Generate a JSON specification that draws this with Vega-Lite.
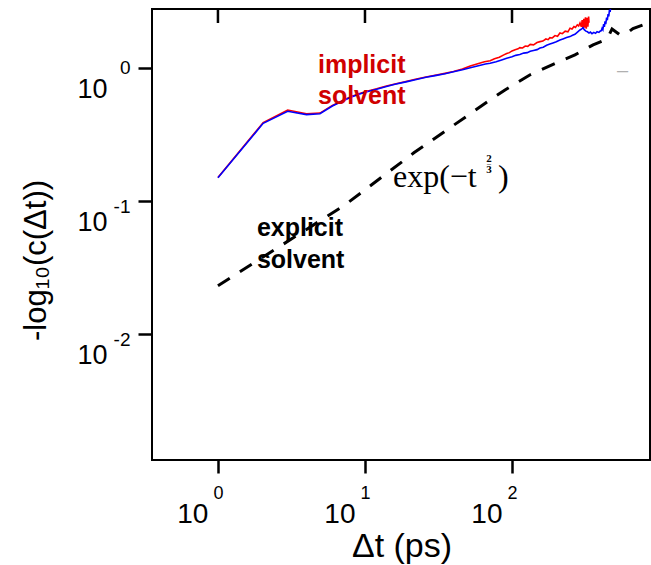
{
  "$schema": "https://vega.github.io/schema/vega-lite/v6.json",
  "width": 498,
  "height": 451,
  "autosize": {"type": "none"},
  "padding": {"left": 152, "top": 9, "right": 1, "bottom": 105},
  "background": "white",
  "config": {"view": {"stroke": "black", "strokeWidth": 2}, "font": "Liberation Sans"},
  "datasets": {
    "red": [
      {"t": 1, "v": 0.151}, {"t": 2.03, "v": 0.39}, {"t": 2.98, "v": 0.485}, {"t": 4.0, "v": 0.455}, {"t": 4.94, "v": 0.46},
      {"t": 6, "v": 0.525}, {"t": 7, "v": 0.57}, {"t": 8, "v": 0.61}, {"t": 9, "v": 0.64}, {"t": 10, "v": 0.665},
      {"t": 12, "v": 0.7}, {"t": 14, "v": 0.735}, {"t": 16, "v": 0.76}, {"t": 19, "v": 0.795}, {"t": 22, "v": 0.825},
      {"t": 26, "v": 0.86}, {"t": 30, "v": 0.885}, {"t": 35, "v": 0.915}, {"t": 40, "v": 0.945}, {"t": 46, "v": 0.985},
      {"t": 52, "v": 1.04}, {"t": 60, "v": 1.09}, {"t": 65, "v": 1.12}, {"t": 71, "v": 1.14}, {"t": 76, "v": 1.18},
      {"t": 82, "v": 1.21}, {"t": 88, "v": 1.26}, {"t": 92, "v": 1.29}, {"t": 96, "v": 1.31},
      {"t": 100, "v": 1.35}, {"t": 105, "v": 1.38}, {"t": 110, "v": 1.4}, {"t": 113, "v": 1.43}, {"t": 118, "v": 1.42},
      {"t": 123, "v": 1.47}, {"t": 128, "v": 1.46}, {"t": 133, "v": 1.51}, {"t": 140, "v": 1.5}, {"t": 148, "v": 1.56},
      {"t": 155, "v": 1.585}, {"t": 162, "v": 1.6}, {"t": 170, "v": 1.66}, {"t": 176, "v": 1.64}, {"t": 181, "v": 1.7},
      {"t": 188, "v": 1.69}, {"t": 196, "v": 1.76}, {"t": 204, "v": 1.74}, {"t": 212, "v": 1.84}, {"t": 220, "v": 1.82},
      {"t": 230, "v": 1.9}, {"t": 240, "v": 1.88}, {"t": 248, "v": 2.0}, {"t": 256, "v": 1.97}, {"t": 264, "v": 2.06},
      {"t": 270, "v": 2.03}, {"t": 278, "v": 2.12}, {"t": 284, "v": 2.08}, {"t": 290, "v": 2.19}, {"t": 296, "v": 2.05},
      {"t": 300, "v": 2.3}, {"t": 304, "v": 2.0}, {"t": 308, "v": 2.35}, {"t": 312, "v": 2.02}, {"t": 316, "v": 2.42},
      {"t": 320, "v": 1.98}, {"t": 324, "v": 2.4}, {"t": 328, "v": 2.05}, {"t": 332, "v": 2.45}, {"t": 334, "v": 2.2}
    ],
    "blue": [
      {"t": 1, "v": 0.15}, {"t": 2.03, "v": 0.385}, {"t": 2.98, "v": 0.475}, {"t": 4.0, "v": 0.448}, {"t": 4.94, "v": 0.455},
      {"t": 6, "v": 0.52}, {"t": 7, "v": 0.565}, {"t": 8, "v": 0.605}, {"t": 9, "v": 0.635}, {"t": 10, "v": 0.66},
      {"t": 12, "v": 0.695}, {"t": 14, "v": 0.73}, {"t": 16, "v": 0.757}, {"t": 19, "v": 0.79}, {"t": 22, "v": 0.82},
      {"t": 26, "v": 0.855}, {"t": 30, "v": 0.88}, {"t": 35, "v": 0.91}, {"t": 40, "v": 0.94}, {"t": 46, "v": 0.975},
      {"t": 52, "v": 1.01}, {"t": 60, "v": 1.05}, {"t": 66, "v": 1.075}, {"t": 71, "v": 1.09}, {"t": 78, "v": 1.12},
      {"t": 85, "v": 1.155}, {"t": 92, "v": 1.19}, {"t": 96, "v": 1.205},
      {"t": 100, "v": 1.22}, {"t": 106, "v": 1.25}, {"t": 113, "v": 1.27}, {"t": 120, "v": 1.3}, {"t": 127, "v": 1.31},
      {"t": 133, "v": 1.34}, {"t": 140, "v": 1.36}, {"t": 148, "v": 1.38}, {"t": 155, "v": 1.42}, {"t": 163, "v": 1.44},
      {"t": 172, "v": 1.49}, {"t": 181, "v": 1.52}, {"t": 190, "v": 1.55}, {"t": 200, "v": 1.58}, {"t": 212, "v": 1.63},
      {"t": 222, "v": 1.66}, {"t": 235, "v": 1.7}, {"t": 248, "v": 1.73}, {"t": 258, "v": 1.77}, {"t": 268, "v": 1.8},
      {"t": 280, "v": 1.88}, {"t": 290, "v": 1.94}, {"t": 298, "v": 1.98}, {"t": 304, "v": 2.02}, {"t": 310, "v": 1.95},
      {"t": 318, "v": 1.9}, {"t": 326, "v": 1.88}, {"t": 334, "v": 1.84}, {"t": 341, "v": 1.87}, {"t": 350, "v": 1.82},
      {"t": 360, "v": 1.86}, {"t": 370, "v": 1.83}, {"t": 379, "v": 1.88}, {"t": 390, "v": 1.86}, {"t": 397, "v": 1.9},
      {"t": 405, "v": 1.92}, {"t": 410, "v": 2.0}, {"t": 415, "v": 1.95}, {"t": 420, "v": 2.15}, {"t": 425, "v": 2.05},
      {"t": 429, "v": 2.25}, {"t": 434, "v": 2.15}, {"t": 440, "v": 2.4}, {"t": 445, "v": 2.3}, {"t": 450, "v": 2.55},
      {"t": 455, "v": 2.45}, {"t": 460, "v": 2.75}, {"t": 465, "v": 2.65}, {"t": 470, "v": 2.95}, {"t": 475, "v": 2.8},
      {"t": 479, "v": 3.2}
    ],
    "dash": [
      {"t": 1, "v": 0.0231}, {"t": 7.31, "v": 0.0938}, {"t": 21.5, "v": 0.231}, {"t": 74.3, "v": 0.598},
      {"t": 89.6, "v": 0.687}, {"t": 132, "v": 0.89}, {"t": 187, "v": 1.059}, {"t": 268, "v": 1.26},
      {"t": 356, "v": 1.5}, {"t": 443, "v": 1.66}, {"t": 479, "v": 1.975}, {"t": 543, "v": 1.78},
      {"t": 606, "v": 1.84}, {"t": 665, "v": 1.99}, {"t": 778, "v": 2.12}, {"t": 868, "v": 2.19}
    ],
    "topticks": [
      {"t": 1, "top": 2.79, "bottom": 2.19}, {"t": 10, "top": 2.79, "bottom": 2.19}, {"t": 100, "top": 2.79, "bottom": 2.19}
    ]
  },
  "resolve": {"axis": {"x": "independent", "y": "independent"}},
  "layer": [
    {
      "data": {"name": "topticks"},
      "mark": {"type": "rule", "color": "black", "strokeWidth": 2.5},
      "encoding": {
        "x": {"field": "t", "type": "quantitative", "scale": {"type": "log", "domain": [0.356, 868], "nice": false}, "axis": null},
        "y": {"field": "top", "type": "quantitative", "scale": {"type": "log", "domain": [0.00113, 2.79], "nice": false}, "axis": null},
        "y2": {"field": "bottom"}
      }
    },
    {
      "data": {"name": "red"},
      "mark": {"type": "line", "color": "#ff0000", "strokeWidth": 1.6, "clip": true},
      "encoding": {
        "x": {
          "field": "t", "type": "quantitative",
          "scale": {"type": "log", "domain": [0.356, 868], "nice": false},
          "axis": {
            "orient": "bottom", "values": [1, 10, 100], "labelExpr": "'10'",
            "labelFont": "Liberation Sans", "labelFontSize": 28, "labelColor": "black",
            "labelAlign": "right", "labelBaseline": "alphabetic", "labelOffset": -10, "labelPadding": 49,
            "labelFlush": false, "labelOverlap": false, "labelBound": false,
            "tickSize": 13, "tickWidth": 2.5, "tickColor": "black", "domain": false, "grid": false,
            "title": "Δt (ps)", "titleFont": "Liberation Sans", "titleFontSize": 34, "titleFontWeight": "normal",
            "titleColor": "black", "titleX": 249.5, "titleY": 96, "titleBaseline": "alphabetic", "titleAlign": "center"
          }
        },
        "y": {
          "field": "v", "type": "quantitative",
          "scale": {"type": "log", "domain": [0.00113, 2.79], "nice": false},
          "axis": {
            "orient": "left", "values": [0.01, 0.1, 1], "labelExpr": "'10'",
            "labelFont": "Liberation Sans", "labelFontSize": 27, "labelColor": "black",
            "labelAlign": "right", "labelBaseline": "alphabetic", "labelOffset": 29, "labelPadding": 31,
            "labelFlush": false, "labelOverlap": false, "labelBound": false,
            "tickSize": 14, "tickWidth": 2.5, "tickColor": "black", "domain": false, "grid": false,
            "title": "-log₁₀(c(Δt))", "titleFont": "Liberation Sans", "titleFontSize": 31, "titleFontWeight": "normal",
            "titleColor": "black", "titleAngle": -90, "titleX": -107, "titleY": 251, "titleBaseline": "alphabetic", "titleAlign": "center"
          }
        }
      }
    },
    {
      "data": {"name": "blue"},
      "mark": {"type": "line", "color": "#0000ff", "strokeWidth": 1.6, "clip": true},
      "encoding": {
        "x": {
          "field": "t", "type": "quantitative",
          "scale": {"type": "log", "domain": [0.356, 868], "nice": false},
          "axis": {
            "orient": "bottom", "values": [1, 10, 100],
            "labelExpr": "datum.value < 5 ? '0' : datum.value < 50 ? '1' : '2'",
            "labelFont": "Liberation Sans", "labelFontSize": 18, "labelColor": "black",
            "labelAlign": "center", "labelBaseline": "alphabetic", "labelPadding": 25,
            "labelFlush": false, "labelOverlap": false, "labelBound": false,
            "tickSize": 13, "tickOpacity": 0, "domain": false, "grid": false, "title": null
          }
        },
        "y": {
          "field": "v", "type": "quantitative",
          "scale": {"type": "log", "domain": [0.00113, 2.79], "nice": false},
          "axis": {
            "orient": "left", "values": [0.01, 0.1, 1],
            "labelExpr": "datum.value > 0.5 ? '0' : datum.value > 0.05 ? '-1' : '-2'",
            "labelFont": "Liberation Sans", "labelFontSize": 19, "labelColor": "black",
            "labelAlign": "right", "labelBaseline": "alphabetic",
            "labelOffset": {"condition": {"test": "datum.value > 0.5", "value": 5}, "value": 11},
            "labelPadding": 8,
            "labelFlush": false, "labelOverlap": false, "labelBound": false,
            "tickSize": 14, "tickOpacity": 0, "domain": false, "grid": false, "title": null
          }
        }
      }
    },
    {
      "data": {"name": "dash"},
      "mark": {"type": "line", "color": "black", "strokeWidth": 3, "strokeDash": [14, 12], "clip": true},
      "encoding": {
        "x": {"field": "t", "type": "quantitative", "axis": null},
        "y": {"field": "v", "type": "quantitative", "axis": null}
      }
    },
    {
      "data": {"values": [{"t": 4.79, "v": 0.927, "label": "implicit\nsolvent"}]},
      "mark": {"type": "text", "align": "left", "baseline": "alphabetic", "font": "Liberation Sans", "fontSize": 25, "fontWeight": "bold", "color": "#d00000", "lineBreak": "\n", "lineHeight": 31},
      "encoding": {
        "x": {"field": "t", "type": "quantitative", "axis": null},
        "y": {"field": "v", "type": "quantitative", "axis": null},
        "text": {"field": "label"}
      }
    },
    {
      "data": {"values": [{"t": 1.84, "v": 0.0544, "label": "explicit\nsolvent"}]},
      "mark": {"type": "text", "align": "left", "baseline": "alphabetic", "font": "Liberation Sans", "fontSize": 25, "fontWeight": "bold", "color": "black", "lineBreak": "\n", "lineHeight": 32},
      "encoding": {
        "x": {"field": "t", "type": "quantitative", "axis": null},
        "y": {"field": "v", "type": "quantitative", "axis": null},
        "text": {"field": "label"}
      }
    },
    {
      "data": {"values": [{"t": 15.5, "v": 0.127, "base": "exp(−t", "num": "2", "bar": "–", "den": "3", "close": ")"}]},
      "encoding": {
        "x": {"field": "t", "type": "quantitative", "axis": null},
        "y": {"field": "v", "type": "quantitative", "axis": null}
      },
      "layer": [
        {"mark": {"type": "text", "align": "left", "baseline": "alphabetic", "font": "Liberation Serif", "fontSize": 32, "color": "black"}, "encoding": {"text": {"field": "base"}}},
        {"mark": {"type": "text", "align": "center", "baseline": "alphabetic", "font": "Liberation Serif", "fontSize": 11, "fontWeight": "bold", "color": "black", "dx": 96, "dy": -25}, "encoding": {"text": {"field": "num"}}},
        {"mark": {"type": "text", "align": "center", "baseline": "alphabetic", "font": "Liberation Serif", "fontSize": 8, "color": "black", "dx": 96, "dy": -21}, "encoding": {"text": {"field": "bar"}}},
        {"mark": {"type": "text", "align": "center", "baseline": "alphabetic", "font": "Liberation Serif", "fontSize": 11, "fontWeight": "bold", "color": "black", "dx": 96, "dy": -14}, "encoding": {"text": {"field": "den"}}},
        {"mark": {"type": "text", "align": "left", "baseline": "alphabetic", "font": "Liberation Serif", "fontSize": 32, "color": "black", "dx": 105}, "encoding": {"text": {"field": "close"}}}
      ]
    },
    {
      "data": {"values": [{"t": 518, "v": 0.86, "label": "–"}]},
      "mark": {"type": "text", "align": "left", "baseline": "alphabetic", "font": "Liberation Sans", "fontSize": 20, "color": "#b0b0b0"},
      "encoding": {
        "x": {"field": "t", "type": "quantitative", "axis": null},
        "y": {"field": "v", "type": "quantitative", "axis": null},
        "text": {"field": "label"}
      }
    }
  ]
}
